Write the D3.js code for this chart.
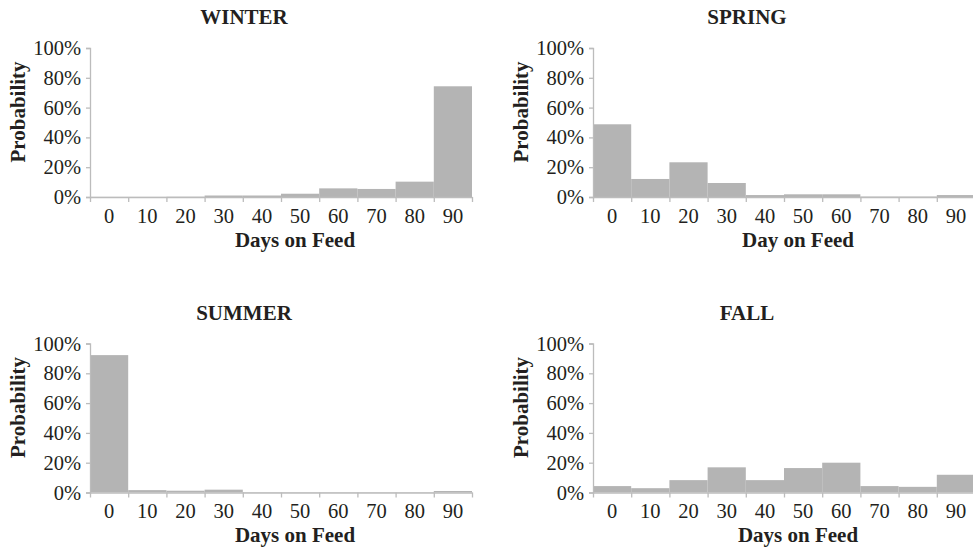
<!DOCTYPE html>
<html>
<head>
<meta charset="utf-8">
<script src="https://cdn.jsdelivr.net/npm/d3@7"></script>
<style>
  body { margin: 0; background: #fff; }
  svg text { font-family: "Liberation Serif", "Times New Roman", serif; fill: #231f20; }
  .axis path, .axis line { stroke: #bcbcbc; stroke-width: 1.3; }
  .title, .label { font-weight: bold; font-size: 21px; }
</style>
</head>
<body>
<div id="chart"></div>
<script>
// day-on-feed categories
var days = ['0', '10', '20', '30', '40', '50', '60', '70', '80', '90'];
var yTicks = [0, 0.2, 0.4, 0.6, 0.8, 1];

// probabilities per season
var winter = [0.001, 0.001, 0.002, 0.01, 0.01, 0.022, 0.058, 0.054, 0.103, 0.743];
var spring = [0.488, 0.121, 0.233, 0.094, 0.013, 0.018, 0.018, 0.003, 0.003, 0.013];
var summer = [0.922, 0.016, 0.012, 0.019, 0.003, 0.003, 0.003, 0.003, 0.003, 0.01];
var fall = [0.043, 0.029, 0.083, 0.169, 0.083, 0.164, 0.2, 0.043, 0.038, 0.119];

var svgWidth = 973;
var svgHeight = 548;
var plotW = 382;
var plotH = 149;
var serif = '"Liberation Serif", "Times New Roman", serif';

var panels = [
    { title: 'WINTER', xlabel: 'Days on Feed', values: winter, left: 90, top: 48 },
    { title: 'SPRING', xlabel: 'Day on Feed', values: spring, left: 593, top: 48 },
    { title: 'SUMMER', xlabel: 'Days on Feed', values: summer, left: 90, top: 343.5 },
    { title: 'FALL', xlabel: 'Days on Feed', values: fall, left: 593, top: 343.5 }
];

var svg = d3.select('#chart')
    .append('svg')
    .attr('width', svgWidth)
    .attr('height', svgHeight);

var xBand = d3.scaleBand().domain(days).range([0, plotW]).padding(0);
var xEdge = d3.scaleLinear().domain([0, days.length]).range([0, plotW]);
var y = d3.scaleLinear().domain([0, 1]).range([plotH, 0]);

panels.forEach(function (p) {
    var g = svg.append('g')
        .attr('transform', `translate(${p.left},${p.top})`);

    // bars
    g.selectAll('rect')
        .data(p.values)
        .enter()
        .append('rect')
        .attr('x', (d, i) => xBand(days[i]))
        .attr('width', xBand.bandwidth())
        .attr('y', d => y(d))
        .attr('height', d => plotH - y(d))
        .attr('fill', '#b4b4b4');

    // y axis
    g.append('g')
        .attr('class', 'axis')
        .call(d3.axisLeft(y).tickValues(yTicks).tickFormat(d3.format('.0%')).tickSize(4).tickPadding(5))
        .attr('font-family', serif)
        .attr('font-size', 20.5);

    // x axis: tick marks at bin edges
    g.append('g')
        .attr('class', 'axis')
        .attr('transform', `translate(0,${plotH})`)
        .call(d3.axisBottom(xEdge).tickValues(d3.range(days.length + 1)).tickFormat('').tickSize(5).tickSizeOuter(0));

    // x labels centred in bins
    var xl = g.append('g')
        .attr('class', 'axis')
        .attr('transform', `translate(0,${plotH})`)
        .call(d3.axisBottom(xBand).tickSize(0).tickPadding(11))
        .attr('font-family', serif)
        .attr('font-size', 20.5);
    xl.select('.domain').remove();

    g.append('text')
        .attr('class', 'title')
        .attr('x', 154)
        .attr('y', -24)
        .attr('text-anchor', 'middle')
        .text(p.title);

    g.append('text')
        .attr('class', 'label')
        .attr('x', 205)
        .attr('y', plotH + 49.5)
        .attr('text-anchor', 'middle')
        .text(p.xlabel);

    g.append('text')
        .attr('class', 'label')
        .attr('transform', 'rotate(-90)')
        .attr('x', -64)
        .attr('y', -65)
        .attr('text-anchor', 'middle')
        .text('Probability');
});
</script>
</body>
</html>
